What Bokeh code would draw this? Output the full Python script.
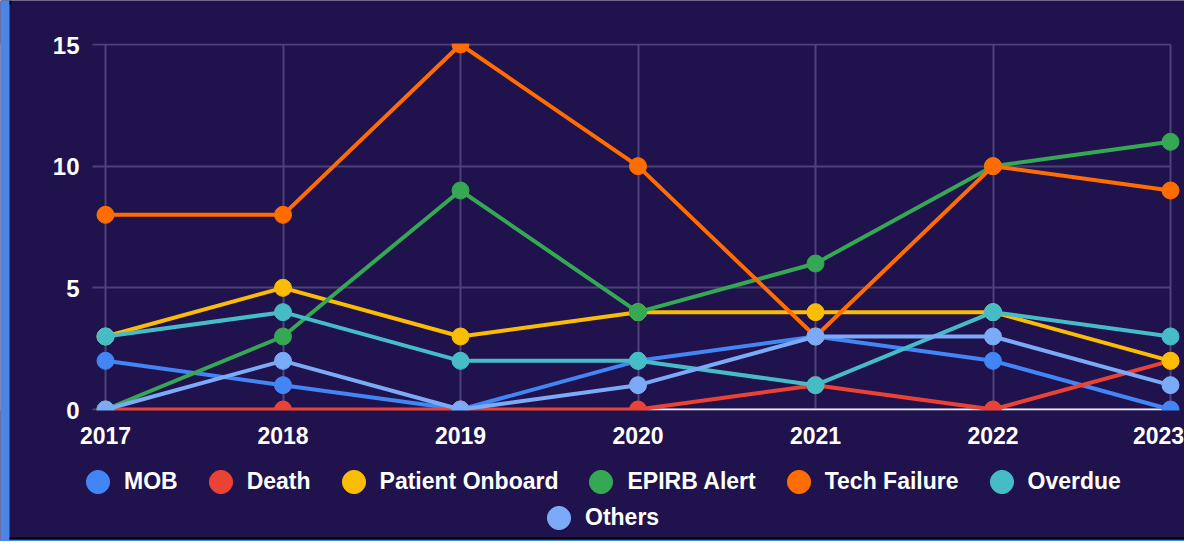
from bokeh.plotting import figure
from bokeh.models import Range1d, FixedTicker, Legend, LegendItem, Grid, BoxAnnotation
from bokeh.core.properties import value
from bokeh.embed import file_html
from bokeh.resources import INLINE

# ---- data ----
years = [2017, 2018, 2019, 2020, 2021, 2022, 2023]
year_labels = ["2017", "2018", "2019", "2020", "2021", "2022", "2023"]
series_names = ["MOB", "Death", "Patient Onboard", "EPIRB Alert", "Tech Failure", "Overdue", "Others"]
mob = [2, 1, 0, 2, 3, 2, 0]
death = [0, 0, 0, 0, 1, 0, 2]
patient_onboard = [3, 5, 3, 4, 4, 4, 2]
epirb_alert = [0, 3, 9, 4, 6, 10, 11]
tech_failure = [8, 8, 15, 10, 3, 10, 9]
overdue = [3, 4, 2, 2, 1, 4, 3]
others = [0, 2, 0, 1, 3, 3, 1]
y_ticks = [0, 5, 10, 15]
y_labels = ["0", "5", "10", "15"]

series_values = [mob, death, patient_onboard, epirb_alert, tech_failure, overdue, others]
colors = ["#4285f4", "#ea4335", "#fbbc04", "#34a853", "#ff6d01", "#46bdc6", "#7baaf7"]

BG = "#20124d"
GRID = "#4d4278"
FONT = "Liberation Sans"

W, H = 1184, 541
X0_PX = 105           # pixel of first year
PX_YEAR = 177.5
Y0_PX = 409           # pixel of y = 0
PX_UNIT = 365 / 15

x_start = years[0] - X0_PX / PX_YEAR
x_end = years[0] + (W - X0_PX) / PX_YEAR
y_top = y_ticks[0] + Y0_PX / PX_UNIT
y_bottom = y_ticks[0] - (H - Y0_PX) / PX_UNIT

p = figure(width=W, height=H,
           x_range=Range1d(x_start, x_end),
           y_range=Range1d(y_bottom, y_top),
           x_axis_location=None, y_axis_location=None,
           output_backend="svg", toolbar_location=None,
           min_border_left=0, min_border_right=0,
           min_border_top=0, min_border_bottom=0)

p.background_fill_color = BG
p.border_fill_color = BG
p.outline_line_color = None

# grids
p.xgrid.ticker = FixedTicker(ticks=years)
p.xgrid.grid_line_color = GRID
p.xgrid.grid_line_width = 2
p.xgrid.cross_bounds = (y_ticks[0], y_ticks[-1])
p.ygrid.ticker = FixedTicker(ticks=y_ticks)
p.ygrid.grid_line_color = GRID
p.ygrid.grid_line_width = 2
p.ygrid.cross_bounds = (years[0] - 13 / PX_YEAR, years[-1])

zero_grid = Grid(dimension=1, ticker=FixedTicker(ticks=[y_ticks[0]]),
                 grid_line_color="#e8e8f0", grid_line_width=2,
                 cross_bounds=(years[0], years[-1]))
p.add_layout(zero_grid)

# series
marker_renderers = []
for name, vals, col in zip(series_names, series_values, colors):
    p.line(years, vals, line_color=col, line_width=4)
    r = p.ellipse(years, vals, width=17, height=17, width_units="screen", height_units="screen",
                  fill_color=col, line_color=col, line_width=1)
    marker_renderers.append(r)

# masks outside the chart area (the original clips its points there)
p.add_layout(BoxAnnotation(top=y_ticks[0] - 1 / PX_UNIT, fill_color=BG, fill_alpha=1, line_color=None))
p.add_layout(BoxAnnotation(bottom=y_ticks[-1] + 1 / PX_UNIT, fill_color=BG, fill_alpha=1, line_color=None))

# page edge decoration seen in the original
p.add_layout(BoxAnnotation(left=0, right=9, left_units="screen", right_units="screen",
                           fill_color="#4a86e8", fill_alpha=1, line_color=None))
p.add_layout(BoxAnnotation(left=9, right=11, left_units="screen", right_units="screen",
                           bottom=H - 4, bottom_units="screen",
                           fill_color="black", fill_alpha=1, line_color=None))
p.add_layout(BoxAnnotation(top=0, bottom=2, top_units="screen", bottom_units="screen",
                           fill_color="#4a86e8", fill_alpha=1, line_color=None))
p.add_layout(BoxAnnotation(top=2, bottom=4, left=9, top_units="screen", bottom_units="screen",
                           left_units="screen", fill_color="black", fill_alpha=1, line_color=None))

# tick labels
p.text(x=years, y=[y_ticks[0]] * len(years), text=year_labels,
       text_align="center", text_baseline="alphabetic", y_offset=26,
       x_offset=[0, 0, 0, 0, 0, 0, -12],
       text_color="white", text_font=value(FONT), text_font_size="23px",
       text_font_style="bold", level="overlay")
p.text(x=[years[0]] * len(y_ticks), y=y_ticks, text=y_labels,
       text_align="right", text_baseline="alphabetic", x_offset=-26, y_offset=0.5,
       text_color="white", text_font=value(FONT), text_font_size="24px",
       text_font_style="bold", level="overlay")

def make_legend(idx, loc):
    items = [LegendItem(label=series_names[i], renderers=[marker_renderers[i]]) for i in idx]
    return Legend(items=items, location=loc, orientation="horizontal",
                  glyph_width=29, glyph_height=29, label_standoff=12, spacing=28,
                  padding=0, margin=0, background_fill_alpha=0, border_line_color=None,
                  label_text_color="white", label_text_font=FONT,
                  label_text_font_size="23px", label_text_font_style="bold")

p.add_layout(make_legend([0, 1, 2, 3, 4, 5], (83, 45)))
p.add_layout(make_legend([6], (544, 9)))

open("out.html", "w").write(file_html(p, INLINE))
